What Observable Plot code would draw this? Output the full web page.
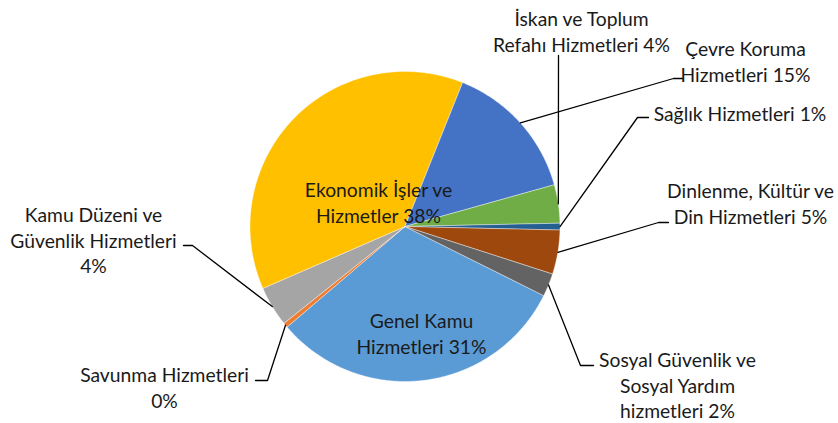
<!DOCTYPE html>
<html>
<head>
<meta charset="utf-8">
<script src="https://cdn.jsdelivr.net/npm/d3@7"></script>
<script src="https://cdn.jsdelivr.net/npm/@observablehq/plot@0.6"></script>
<style>
  html, body { margin: 0; padding: 0; background: #fff; }
  #chart svg { display: block; }
</style>
</head>
<body>
<div id="chart"></div>
<script>
// ---- data ----
const categories = [
  "Genel Kamu Hizmetleri",
  "Savunma Hizmetleri",
  "Kamu Düzeni ve Güvenlik Hizmetleri",
  "Ekonomik İşler ve Hizmetler",
  "Çevre Koruma Hizmetleri",
  "İskan ve Toplum Refahı Hizmetleri",
  "Sağlık Hizmetleri",
  "Dinlenme, Kültür ve Din Hizmetleri",
  "Sosyal Güvenlik ve Sosyal Yardım hizmetleri"
];
const shares = [31.4, 0.5, 4.2, 37.6, 14.6, 4.0, 0.7, 4.6, 2.4];
const percentLabels = ["31%", "0%", "4%", "38%", "15%", "4%", "1%", "5%", "2%"];
const labelLines = [
  ["Genel Kamu", "Hizmetleri 31%"],
  ["Savunma Hizmetleri", "0%"],
  ["Kamu Düzeni ve", "Güvenlik Hizmetleri", "4%"],
  ["Ekonomik İşler ve", "Hizmetler 38%"],
  ["Çevre Koruma", "Hizmetleri 15%"],
  ["İskan ve Toplum", "Refahı Hizmetleri 4%"],
  ["Sağlık Hizmetleri 1%"],
  ["Dinlenme, Kültür ve", "Din Hizmetleri 5%"],
  ["Sosyal Güvenlik ve", "Sosyal Yardım", "hizmetleri 2%"]
];
const colors = ["#5B9BD5", "#ED7D31", "#A5A5A5", "#FFC000", "#4472C4", "#70AD47", "#255E91", "#9E480E", "#636363"];

// ---- layout (pixels) ----
const W = 838, H = 423;
const cx = 404.5, cy = 226, R = 155;
const startDeg = 116.5;
const labelLayout = [
  {pos: [421, 332.5], elbow: null},
  {pos: [164, 386.5], elbow: [[255, 380], [267, 380]]},
  {pos: [93, 239],    elbow: [[183, 245], [192, 245]]},
  {pos: [378, 201.5], elbow: null},
  {pos: [745, 60.5],  elbow: [[683, 78], [673, 78]]},
  {pos: [581, 30.5],  elbow: [[558, 55]]},
  {pos: [739.5, 112], elbow: [[648, 117], [637, 117]]},
  {pos: [750, 202.5], elbow: [[668, 222], [658, 222]]},
  {pos: [677, 384],   elbow: [[593, 365], [580, 365]]}
];
const toX = px => (px - cx) / R;
const toY = py => (cy - py) / R;

// ---- pie geometry from data ----
const total = d3.sum(shares);
let acc = startDeg;
const slices = categories.map((c, i) => {
  const a0 = acc, a1 = acc + shares[i] / total * 360;
  acc = a1;
  return {c, i, a0, a1, mid: (a0 + a1) / 2};
});
const rad = d => d * Math.PI / 180;
const polyPts = [];
for (const s of slices) {
  polyPts.push({c: s.c, x: 0, y: 0});
  const n = Math.max(2, Math.ceil((s.a1 - s.a0) / 0.5));
  for (let k = 0; k <= n; k++) {
    const a = rad(s.a0 + (s.a1 - s.a0) * k / n);
    polyPts.push({c: s.c, x: Math.sin(a), y: Math.cos(a)});
  }
  polyPts.push({c: s.c, x: 0, y: 0});
}
const leaderPts = [];
slices.forEach((s, i) => {
  const L = labelLayout[i];
  if (!L.elbow) return;
  for (const p of L.elbow) leaderPts.push({c: s.c, x: toX(p[0]), y: toY(p[1])});
  const a = rad(s.mid);
  leaderPts.push({c: s.c, x: Math.sin(a), y: Math.cos(a)});
});
const labels = slices.map((s, i) => ({
  c: s.c,
  x: toX(labelLayout[i].pos[0]),
  y: toY(labelLayout[i].pos[1]),
  text: labelLines[i].join("\n")
}));

const FONT = "Lato, 'Noto Sans', sans-serif";
const chart = Plot.plot({
  width: W, height: H,
  margin: 0,
  x: {domain: [toX(0), toX(W)], range: [0, W], axis: null},
  y: {domain: [toY(H), toY(0)], range: [H, 0], axis: null},
  color: {domain: categories, range: colors},
  style: {fontFamily: FONT, background: "#fff"},
  marks: [
    Plot.line(polyPts, {x: "x", y: "y", z: "c", fill: "c", stroke: "#fff", strokeWidth: 0.4, curve: "linear"}),
    Plot.line(leaderPts, {x: "x", y: "y", z: "c", stroke: "#000", strokeWidth: 1.3, curve: "linear"}),
    Plot.text(labels, {x: "x", y: "y", text: "text", fill: "#1a1a1a", fontSize: 19.3, lineHeight: 1.3, textAnchor: "middle", lineAnchor: "middle", fontFamily: FONT})
  ]
});
document.getElementById("chart").appendChild(chart);
</script>
</body>
</html>
